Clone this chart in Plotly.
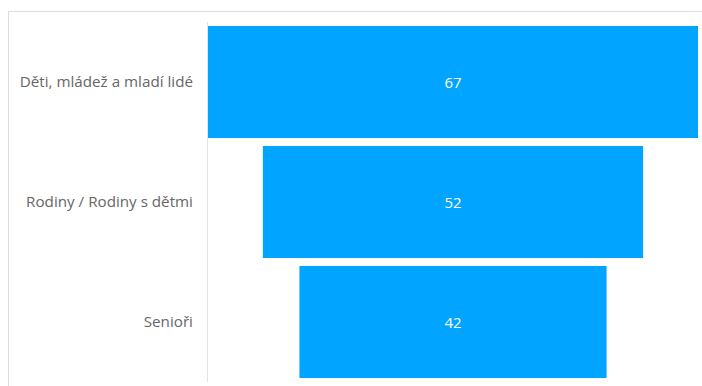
import plotly.graph_objects as go

# Target groups and their counts
categories = ["Děti, mládež a mladí lidé", "Rodiny / Rodiny s dětmi", "Senioři"]
values = [67, 52, 42]

BAR_COLOR = "#01A4FF"

fig = go.Figure(
    go.Funnel(
        y=categories,
        x=values,
        orientation="h",
        marker=dict(color=BAR_COLOR, line=dict(width=0)),
        connector=dict(visible=False),
        textinfo="value",
        textposition="inside",
        insidetextanchor="middle",
        textfont=dict(color="white", size=15, family="Open Sans"),
        hoverinfo="skip",
    )
)

half = max(values) / 2
W, H = 702, 386
ml, mr, mt, mb = 208, 4, 22, 4
pw, ph = W - ml - mr, H - mt - mb

fig.update_layout(
    width=W,
    height=H,
    margin=dict(l=ml, r=mr, t=mt, b=mb),
    paper_bgcolor="white",
    plot_bgcolor="white",
    showlegend=False,
    funnelgap=0.065,
    xaxis=dict(range=[-half, half], visible=False, fixedrange=True),
    yaxis=dict(
        showline=True,
        linecolor="#e3e3e3",
        linewidth=1,
        ticks="",
        showgrid=False,
        ticklabelstandoff=11,
        tickfont=dict(color="#666666", size=15.2, family="Open Sans"),
    ),
    shapes=[
        # card frame: top and left edges
        dict(type="line", xref="paper", yref="paper",
             x0=(8 - ml) / pw, x1=(W - ml) / pw,
             y0=(H - mb - 11.5) / ph, y1=(H - mb - 11.5) / ph,
             line=dict(color="#dcdcdc", width=1)),
        dict(type="line", xref="paper", yref="paper",
             x0=(8.5 - ml) / pw, x1=(8.5 - ml) / pw,
             y0=(H - mb - 11.5) / ph, y1=-mb / ph,
             line=dict(color="#dcdcdc", width=1)),
    ],
)

fig.write_html("out.html")
